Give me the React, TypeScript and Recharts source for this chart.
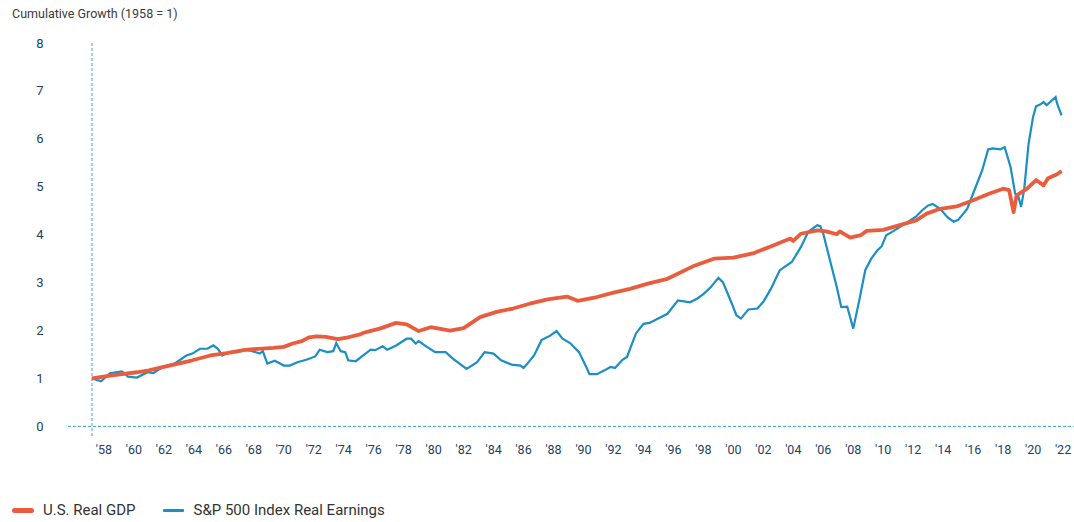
import { Line, LineChart, ReferenceLine, XAxis, YAxis } from "recharts";

// U.S. Real GDP, cumulative growth (1958 = 1)
const GDP_YEARS = [
  1957.2, 1958.0, 1958.4, 1959.2, 1960.2, 1961.0, 1961.7, 1962.8, 1963.9, 1965.1,
  1966.2, 1967.3, 1968.3, 1969.3, 1970.0, 1970.6, 1971.2, 1971.7, 1972.2, 1972.8,
  1973.6, 1974.3, 1975.1, 1975.3, 1976.4, 1977.5, 1978.2, 1979.0, 1979.8, 1981.1,
  1982.0, 1983.1, 1984.2, 1985.3, 1986.4, 1987.6, 1988.9, 1989.6, 1990.9, 1992.0,
  1993.1, 1994.3, 1995.6, 1997.3, 1998.7, 2000.0, 2001.3, 2002.7, 2003.8, 2004.0,
  2004.5, 2005.6, 2006.2, 2006.9, 2007.1, 2007.8, 2008.5, 2008.9, 2010.0, 2011.1,
  2012.2, 2012.9, 2013.8, 2014.9, 2016.0, 2017.1, 2018.0, 2018.4, 2018.7, 2018.9,
  2019.6, 2020.2, 2020.7, 2021.0, 2021.6, 2021.9,
];
const GDP_VALUES = [
  1.0, 1.04, 1.06, 1.09, 1.13, 1.17, 1.22, 1.3, 1.38, 1.48,
  1.53, 1.59, 1.62, 1.64, 1.66, 1.73, 1.78, 1.86, 1.88, 1.87,
  1.82, 1.86, 1.92, 1.95, 2.04, 2.16, 2.13, 1.99, 2.07, 2.0,
  2.05, 2.28, 2.39, 2.46, 2.56, 2.65, 2.71, 2.62, 2.7, 2.79,
  2.87, 2.98, 3.08, 3.34, 3.5, 3.52, 3.61, 3.78, 3.92, 3.87,
  4.02, 4.09, 4.07, 4.01, 4.07, 3.94, 3.99, 4.08, 4.1, 4.2,
  4.3, 4.44, 4.54, 4.59, 4.72, 4.86, 4.96, 4.93, 4.47, 4.82,
  4.96, 5.14, 5.03, 5.18, 5.26, 5.33,
];

// S&P 500 Index Real Earnings, cumulative growth (1958 = 1)
const EARN_YEARS = [
  1957.2, 1957.8, 1958.4, 1959.2, 1959.6, 1960.2, 1960.9, 1961.3, 1961.9, 1962.7,
  1963.5, 1963.9, 1964.4, 1964.9, 1965.3, 1965.6, 1965.9, 1966.3, 1966.9, 1967.5,
  1967.9, 1968.4, 1968.6, 1968.9, 1969.4, 1970.0, 1970.4, 1970.9, 1971.5, 1972.1,
  1972.4, 1972.9, 1973.3, 1973.5, 1973.8, 1974.1, 1974.3, 1974.8, 1975.3, 1975.8,
  1976.1, 1976.6, 1976.9, 1977.5, 1978.2, 1978.5, 1978.8, 1979.0, 1979.5, 1980.1,
  1980.8, 1981.3, 1982.2, 1982.9, 1983.4, 1984.0, 1984.5, 1985.2, 1985.8, 1986.0,
  1986.2, 1986.7, 1987.2, 1987.8, 1988.2, 1988.6, 1989.1, 1989.7, 1990.2, 1990.4,
  1990.9, 1991.4, 1991.8, 1992.1, 1992.6, 1992.9, 1993.5, 1994.0, 1994.4, 1995.6,
  1996.3, 1997.1, 1997.6, 1998.0, 1998.5, 1999.0, 1999.3, 1999.9, 2000.2, 2000.5,
  2001.0, 2001.6, 2002.0, 2002.5, 2003.1, 2003.9, 2004.5, 2005.0, 2005.6, 2005.8,
  2006.0, 2006.5, 2006.9, 2007.2, 2007.6, 2008.0, 2008.4, 2008.8, 2009.2, 2009.6,
  2009.9, 2010.2, 2010.7, 2011.1, 2011.8, 2012.2, 2012.6, 2013.0, 2013.3, 2013.8,
  2014.3, 2014.7, 2015.0, 2015.6, 2016.0, 2016.6, 2017.0, 2017.3, 2017.8, 2018.1,
  2018.5, 2018.8, 2019.0, 2019.2, 2019.4, 2019.7, 2020.0, 2020.2, 2020.5, 2020.7,
  2020.9, 2021.5, 2021.6, 2021.9,
];
const EARN_VALUES = [
  1.0, 0.94, 1.11, 1.15, 1.04, 1.02, 1.13, 1.11, 1.24, 1.31,
  1.48, 1.52, 1.62, 1.62, 1.69, 1.62, 1.48, 1.55, 1.55, 1.6,
  1.57, 1.52, 1.57, 1.31, 1.37, 1.27, 1.27, 1.34, 1.39, 1.46,
  1.6, 1.55, 1.57, 1.74, 1.57, 1.55, 1.38, 1.36, 1.48, 1.6,
  1.59, 1.67, 1.6, 1.69, 1.83, 1.83, 1.73, 1.78, 1.67, 1.55,
  1.55, 1.41, 1.2, 1.34, 1.55, 1.52, 1.38, 1.29, 1.27, 1.22,
  1.29, 1.48, 1.8, 1.9, 1.99, 1.83, 1.74, 1.55, 1.23, 1.09,
  1.09, 1.17, 1.24, 1.22, 1.39, 1.45, 1.94, 2.14, 2.16, 2.35,
  2.63, 2.59, 2.67, 2.76, 2.91, 3.1, 3.01, 2.56, 2.32, 2.25,
  2.44, 2.46, 2.6, 2.87, 3.26, 3.43, 3.74, 4.06, 4.2, 4.18,
  4.02, 3.4, 2.91, 2.49, 2.5, 2.04, 2.63, 3.26, 3.5, 3.67,
  3.76, 3.99, 4.08, 4.16, 4.3, 4.38, 4.51, 4.61, 4.64, 4.54,
  4.36, 4.27, 4.31, 4.54, 4.86, 5.34, 5.78, 5.8, 5.78, 5.83,
  5.41, 4.86, 4.82, 4.58, 4.93, 5.9, 6.46, 6.68, 6.72, 6.77,
  6.7, 6.87, 6.74, 6.49,
];

const X_TICKS = [
  1958, 1960, 1962, 1964, 1966, 1968, 1970, 1972, 1974, 1976, 1978, 1980, 1982,
  1984, 1986, 1988, 1990, 1992, 1994, 1996, 1998, 2000, 2002, 2004, 2006, 2008,
  2010, 2012, 2014, 2016, 2018, 2020, 2022,
];
const Y_TICKS = [0, 1, 2, 3, 4, 5, 6, 7, 8];

const GDP_COLOR = "#e85d3d";
const EARN_COLOR = "#1b8ec4";
const TICK_COLOR = "#1b4263";
const GUIDE_COLOR = "#3aa7c9";
const FONT = "Roboto, 'Open Sans', sans-serif";

const gdpData = GDP_YEARS.map((t, i) => ({ t, v: GDP_VALUES[i] }));
const earnData = EARN_YEARS.map((t, i) => ({ t, v: EARN_VALUES[i] }));

const YTick = (props: any) => (
  <text
    x={40}
    y={props.y}
    dy={4.5}
    textAnchor="middle"
    fill={TICK_COLOR}
    fontSize={13}
    fontFamily={FONT}
  >
    {props.payload.value}
  </text>
);

const XTick = (props: any) => (
  <text
    x={props.x}
    y={454}
    textAnchor="middle"
    fill={TICK_COLOR}
    fontSize={12.5}
    fontFamily={FONT}
  >
    {`'${String(props.payload.value).slice(2)}`}
  </text>
);

export default function App() {
  return (
    <div
      style={{
        position: "absolute",
        left: 0,
        top: 0,
        width: 1074,
        height: 522,
        background: "#fff",
        fontFamily: FONT,
      }}
    >
      <div
        style={{
          position: "absolute",
          left: 12,
          top: 6,
          fontSize: 12.5,
          color: "#3a3a3a",
        }}
      >
        Cumulative Growth (1958 = 1)
      </div>

      <LineChart
        width={1074}
        height={522}
        margin={{ top: 43, right: 0, left: 0, bottom: 56 }}
      >
        <XAxis
          type="number"
          dataKey="t"
          domain={[1955.6, 2022.73]}
          ticks={X_TICKS}
          interval={0}
          tick={<XTick />}
          axisLine={false}
          tickLine={false}
          height={30}
          allowDataOverflow
        />
        <YAxis
          type="number"
          domain={[-0.2, 8]}
          ticks={Y_TICKS}
          interval={0}
          tick={<YTick />}
          axisLine={false}
          tickLine={false}
          width={68}
          allowDataOverflow
        />
        <ReferenceLine
          y={0}
          stroke={GUIDE_COLOR}
          strokeWidth={1}
          strokeDasharray="3 2"
        />
        <ReferenceLine
          x={1957.2}
          stroke={GUIDE_COLOR}
          strokeWidth={1}
          strokeDasharray="3 2"
        />
        <Line
          data={earnData}
          dataKey="v"
          stroke={EARN_COLOR}
          strokeWidth={2.2}
          dot={false}
          type="linear"
          isAnimationActive={false}
        />
        <Line
          data={gdpData}
          dataKey="v"
          stroke={GDP_COLOR}
          strokeWidth={3.8}
          strokeLinejoin="round"
          dot={false}
          type="linear"
          isAnimationActive={false}
        />
      </LineChart>

      {/* legend */}
      <div
        style={{
          position: "absolute",
          left: 12,
          top: 501,
          display: "flex",
          alignItems: "center",
          fontSize: 15,
          color: "#333",
          whiteSpace: "nowrap",
        }}
      >
        <span
          style={{
            display: "inline-block",
            width: 22,
            height: 5,
            borderRadius: 3,
            background: GDP_COLOR,
            marginRight: 9,
          }}
        />
        <span>U.S. Real GDP</span>
        <span
          style={{
            display: "inline-block",
            width: 21,
            height: 3,
            borderRadius: 1,
            background: EARN_COLOR,
            marginLeft: 27,
            marginRight: 10,
          }}
        />
        <span>S&amp;P 500 Index Real Earnings</span>
      </div>
    </div>
  );
}
